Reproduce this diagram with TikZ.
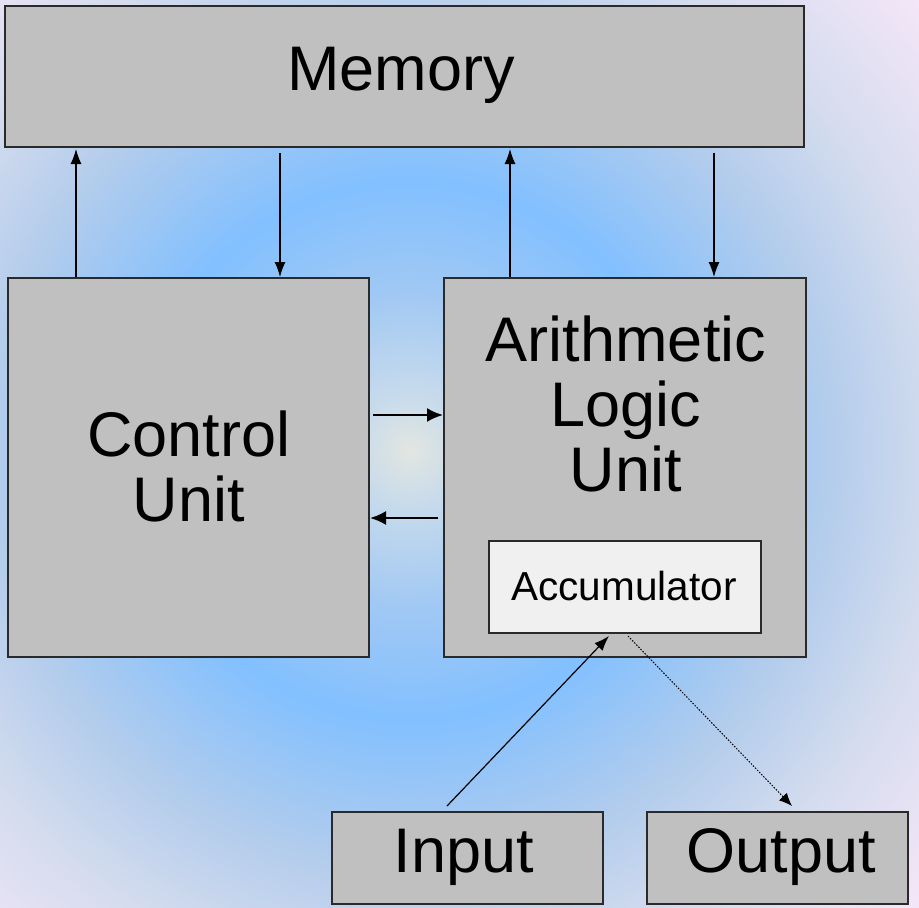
\documentclass[tikz,border=0pt]{standalone}
\usepackage{fontspec}
\setmainfont{Liberation Sans}
\usetikzlibrary{arrows.meta,calc}
\definecolor{bgA}{HTML}{E2E6E0}
\definecolor{bgB}{HTML}{C6DAEC}
\definecolor{bgC}{HTML}{A0C8F4}
\definecolor{bgD}{HTML}{82C0FF}
\definecolor{bgE}{HTML}{B2CCEC}
\definecolor{bgF}{HTML}{D4DCEE}
\definecolor{bgG}{HTML}{F4E6F8}
\definecolor{boxgray}{HTML}{C0C0C0}
\definecolor{accfill}{HTML}{F0F0F0}
\definecolor{edge}{HTML}{2A2A2A}
\pgfdeclareradialshading{bgshade}{\pgfpoint{0bp}{0bp}}{%
color(0bp)=(bgA); color(2.1bp)=(bgB); color(5.7bp)=(bgC); color(9.6bp)=(bgD);
color(14.8bp)=(bgE); color(19bp)=(bgF); color(24.3bp)=(bgG); color(50bp)=(bgG)}
\tikzset{
  box/.style={draw=edge, line width=2pt, fill=boxgray, anchor=north west, inner sep=0pt},
  accbox/.style={draw=edge, line width=1.6pt, fill=accfill, anchor=north west, inner sep=0pt},
  bigtxt/.style={font=\fontsize{63}{65}\selectfont, align=center, inner sep=0pt},
  smalltxt/.style={font=\fontsize{40.5}{42}\selectfont, inner sep=0pt},
  arr/.style={line width=1.2pt, -{Latex[length=15pt,width=11pt]}},
  harr/.style={line width=2.2pt, -{Latex[length=16pt,width=14pt]}},
  darr/.style={line width=1pt, dash pattern=on 1.5pt off 1.5pt, -{Latex[length=13pt,width=11pt]}}
}
\begin{document}
\begin{tikzpicture}[x=1pt,y=-1pt]
\useasboundingbox (0,0) rectangle (919,908);
\begin{scope}
\clip (0,0) rectangle (919,908);
\shade[shading=bgshade] (-290,-250) rectangle (1110,1150);
\end{scope}
% boxes
\node[box, minimum width=799pt, minimum height=141pt] (mem) at (4,5) {};
\node[box, minimum width=361pt, minimum height=379pt] (cu) at (7,277) {};
\node[box, minimum width=362pt, minimum height=379pt] (alu) at (443,277) {};
\node[accbox, minimum width=272pt, minimum height=92pt] (acc) at (488,540) {};
\node[box, minimum width=271pt, minimum height=92pt] (inp) at (331,811) {};
\node[box, minimum width=261pt, minimum height=92pt] (outp) at (646,811) {};
% texts
\node[bigtxt] (memt) at (401,75) {Memory};
\node[bigtxt] (cut) at (189,466) {Control\\Unit};
\node[bigtxt] (alut) at (626,404) {Arithmetic\\Logic\\Unit};
\node[smalltxt] (acct) at (624,586) {Accumulator};
\node[bigtxt] (inpt) at (464,857) {Input};
\node[bigtxt] (outpt) at (781,857) {Output};
% connector coordinates
\coordinate (m1) at (76,149);
\coordinate (m2) at (280,153);
\coordinate (m3) at (510,149);
\coordinate (m4) at (714,153);
\coordinate (h1) at (373,415);
\coordinate (h2) at (438,518);
\coordinate (i1) at (447,806);
\coordinate (i2) at (609,636);
\coordinate (o1) at (628,636);
\coordinate (o2) at (792,806);
% connectors
\draw[arr] (cu.north -| m1) -- (m1);
\draw[arr] (m2) -- (cu.north -| m2);
\draw[arr] (alu.north -| m3) -- (m3);
\draw[arr] (m4) -- (alu.north -| m4);
\draw[harr] (h1) -- (alu.west |- h1);
\draw[harr] (h2) -- (cu.east |- h2);
\draw[arr] (i1) -- (i2);
\draw[darr] (o1) -- (o2);
\end{tikzpicture}
\end{document}
